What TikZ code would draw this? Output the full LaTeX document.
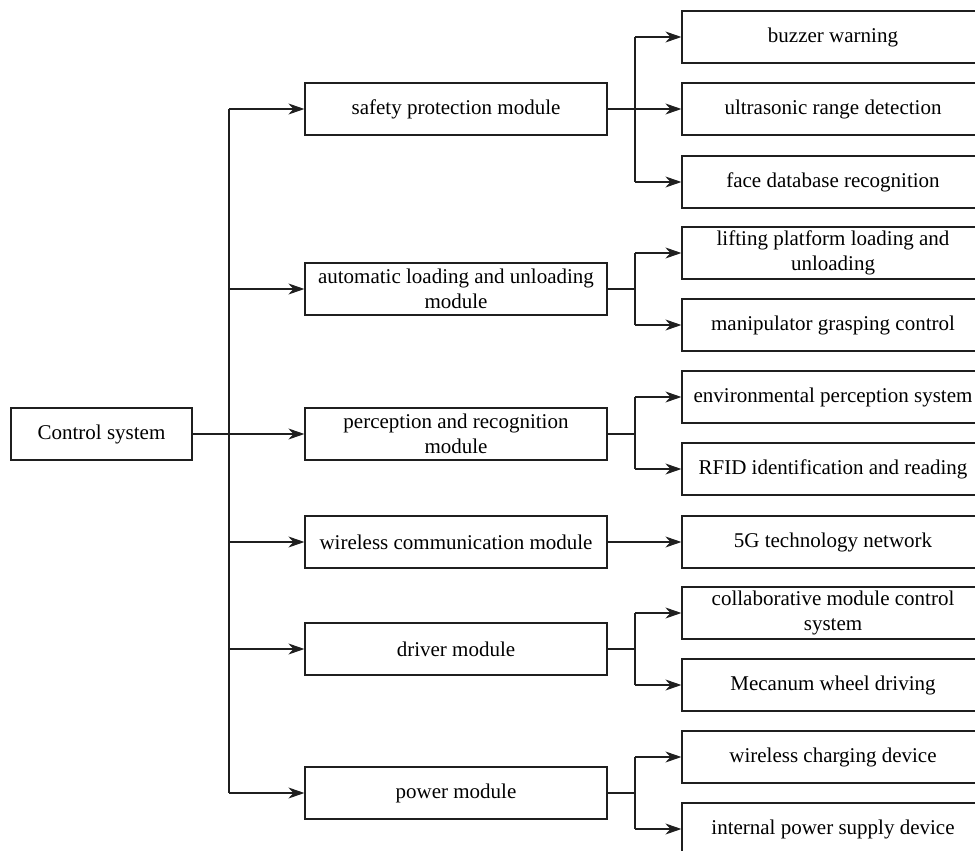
\documentclass[tikz,border=0pt]{standalone}
\usepackage{fontspec}
\setmainfont{Liberation Serif}
\usetikzlibrary{arrows.meta}
\begin{document}
\begin{tikzpicture}[x=1pt,y=-1pt,
  box/.style={draw=black!88, line width=1.2pt, minimum height=52pt, inner sep=0pt, align=center,
     font=\fontsize{21}{25}\selectfont},
  mbox/.style={box, minimum width=302pt},
  rbox/.style={box, minimum width=302pt},
  conn/.style={draw=black!88, line width=1.1pt},
  arr/.style={conn, -{Stealth[length=16pt,width=11pt,inset=5pt]}}]
\useasboundingbox (0,0) rectangle (975,851);
\clip (0,0) rectangle (975,851);
% root
\node[box, minimum width=181pt] (ctrl) at (101.5,434) {Control system};
% middle column
\node[mbox] (m1) at (456,109) {safety protection module};
\node[mbox] (m2) at (456,289) {automatic loading and unloading\\module};
\node[mbox] (m3) at (456,434) {perception and recognition\\module};
\node[mbox] (m4) at (456,542) {wireless communication module};
\node[mbox] (m5) at (456,649) {driver module};
\node[mbox] (m6) at (456,793) {power module};
% right column
\node[rbox] (r1) at (833,37) {buzzer warning};
\node[rbox] (r2) at (833,109) {ultrasonic range detection};
\node[rbox] (r3) at (833,182) {face database recognition};
\node[rbox] (r4) at (833,253) {lifting platform loading and\\unloading};
\node[rbox] (r5) at (833,325) {manipulator grasping control};
\node[rbox] (r6) at (833,397) {environmental perception system};
\node[rbox] (r7) at (833,469) {RFID identification and reading};
\node[rbox] (r8) at (833,542) {5G technology network};
\node[rbox] (r9) at (833,613) {collaborative module control\\system};
\node[rbox] (r10) at (833,685) {Mecanum wheel driving};
\node[rbox] (r11) at (833,757) {wireless charging device};
\node[rbox] (r12) at (833,829) {internal power supply device};
% trunk
\coordinate (tr) at (229,0);
\coordinate (br) at (635,0);
\draw[conn] (m1.west -| tr) -- (m6.west -| tr);
\draw[arr] (ctrl.east) -- (m3.west);
\foreach \m in {m1,m2,m4,m5,m6} \draw[arr] (\m.west -| tr) -- (\m.west);
% branches
\draw[conn] (m1.east) -- (m1.east -| br);
\draw[conn] (r1.west -| br) -- (r3.west -| br);
\foreach \r in {r1,r2,r3} \draw[arr] (\r.west -| br) -- (\r.west);
\draw[conn] (m2.east) -- (m2.east -| br);
\draw[conn] (r4.west -| br) -- (r5.west -| br);
\foreach \r in {r4,r5} \draw[arr] (\r.west -| br) -- (\r.west);
\draw[conn] (m3.east) -- (m3.east -| br);
\draw[conn] (r6.west -| br) -- (r7.west -| br);
\foreach \r in {r6,r7} \draw[arr] (\r.west -| br) -- (\r.west);
\draw[arr] (m4.east) -- (r8.west);
\draw[conn] (m5.east) -- (m5.east -| br);
\draw[conn] (r9.west -| br) -- (r10.west -| br);
\foreach \r in {r9,r10} \draw[arr] (\r.west -| br) -- (\r.west);
\draw[conn] (m6.east) -- (m6.east -| br);
\draw[conn] (r11.west -| br) -- (r12.west -| br);
\foreach \r in {r11,r12} \draw[arr] (\r.west -| br) -- (\r.west);
\end{tikzpicture}
\end{document}
